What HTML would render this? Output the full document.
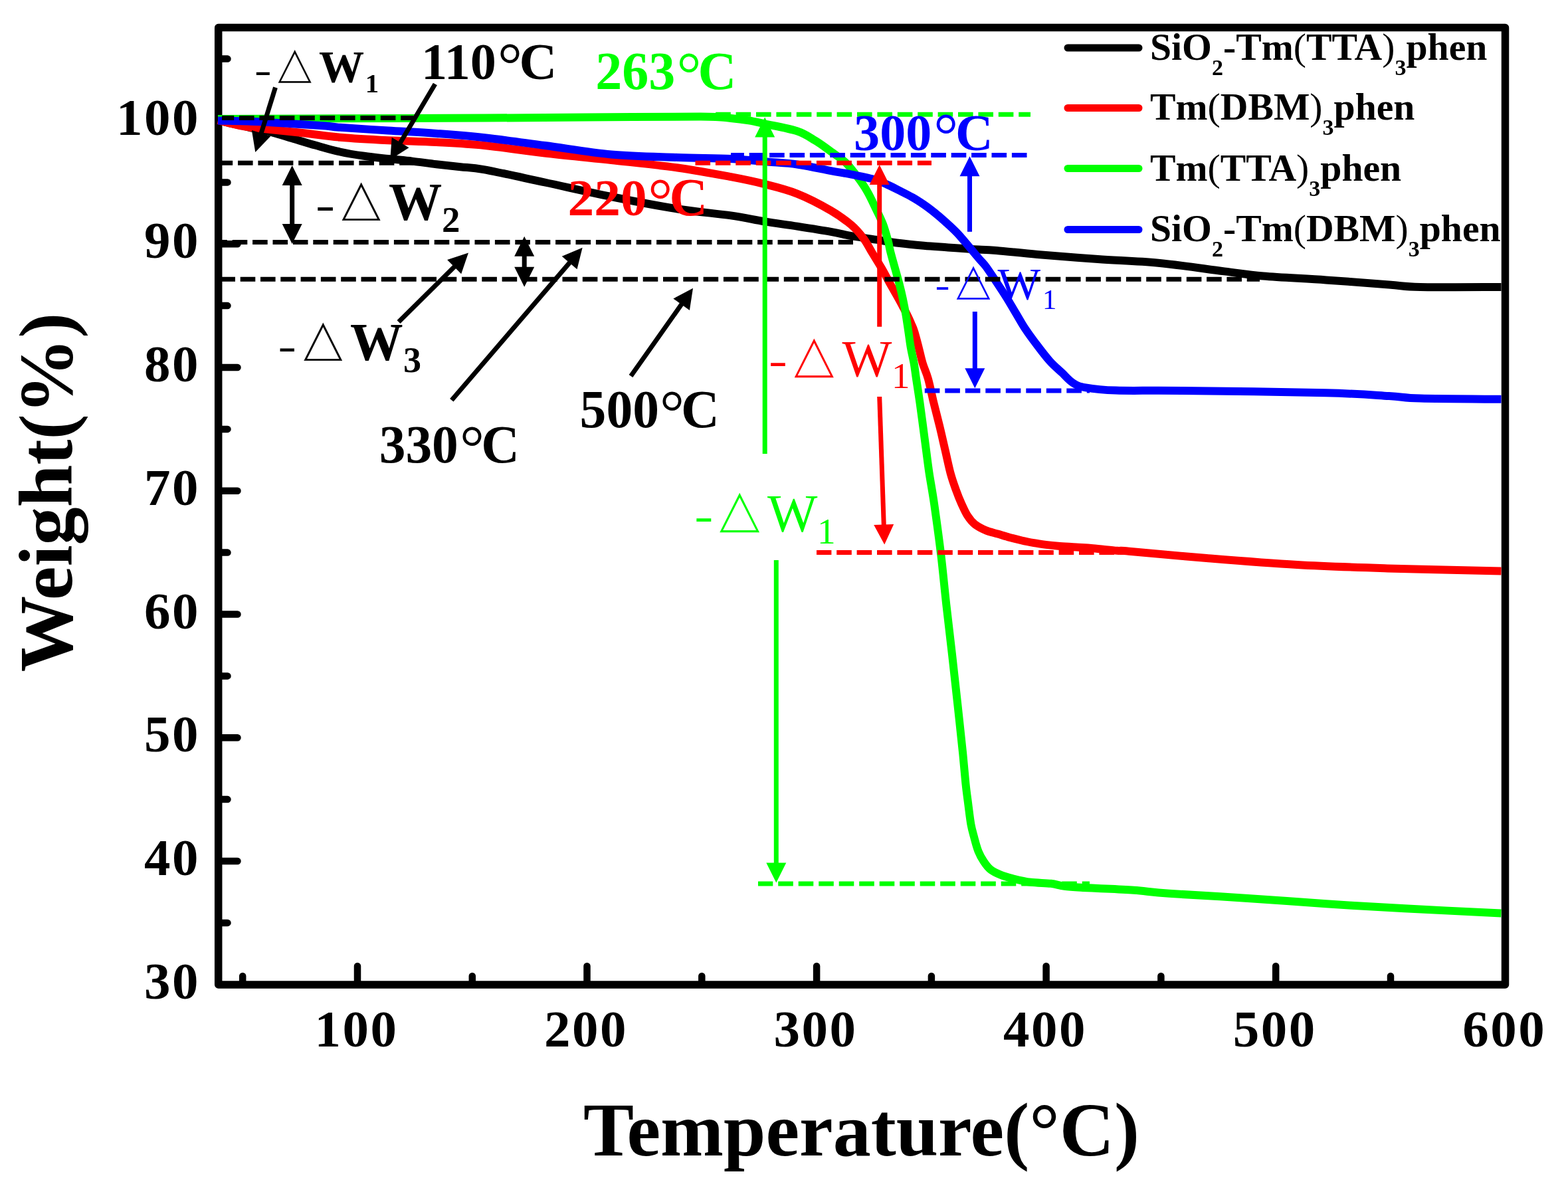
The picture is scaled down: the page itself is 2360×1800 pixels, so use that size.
<!DOCTYPE html>
<html><head><meta charset="utf-8"><title>TGA</title>
<style>html,body{margin:0;padding:0;background:#fff;overflow:hidden}svg{display:block}</style>
</head><body>
<svg width="2360" height="1800" viewBox="0 0 2360 1800">
<rect width="2360" height="1800" fill="#fff"/>
<rect x="328.7" y="41.5" width="1936.8" height="1440.5" fill="none" stroke="#000" stroke-width="11.5" stroke-linejoin="round"/>
<path d="M538.0 1477V1454 M883.5 1477V1454 M1229.1 1477V1454 M1574.6 1477V1454 M1920.2 1477V1454 M365.2 1477V1469 M710.8 1477V1469 M1056.3 1477V1469 M1401.9 1477V1469 M1747.4 1477V1469 M2093.0 1477V1469 M334 1296.0H357.5 M334 1110.2H357.5 M334 924.5H357.5 M334 738.8H357.5 M334 553.0H357.5 M334 367.2H357.5 M334 181.5H357.5 M334 1388.9H342.5 M334 1203.1H342.5 M334 1017.4H342.5 M334 831.6H342.5 M334 645.9H342.5 M334 460.1H342.5 M334 274.4H342.5 M334 88.6H342.5" stroke="#000" stroke-width="10.5" stroke-linecap="round" fill="none"/>
<path d="M328.0 181.0C331.3 181.8 341.7 184.6 348.0 186.0C354.3 187.4 360.7 188.3 366.0 189.5C371.3 190.7 373.9 191.7 380.0 193.0C386.1 194.3 392.8 195.0 402.6 197.5C412.4 200.0 426.9 204.4 439.0 208.0C451.1 211.6 463.2 215.4 475.3 218.8C487.4 222.2 499.5 225.8 511.6 228.5C523.7 231.2 535.8 233.1 547.9 234.8C560.0 236.6 572.1 237.7 584.2 239.0C596.3 240.3 608.4 241.2 620.5 242.6C632.6 244.0 644.7 245.8 656.8 247.2C668.9 248.6 681.0 249.8 693.1 251.2C705.2 252.5 708.4 251.4 729.5 255.3C750.6 259.2 788.2 267.7 820.0 274.5C851.8 281.3 886.7 289.3 920.0 296.0C953.3 302.7 990.0 309.8 1020.0 314.5C1050.0 319.2 1078.2 321.2 1100.0 324.4C1121.8 327.5 1134.1 330.7 1150.8 333.4C1167.5 336.1 1183.2 338.0 1199.9 340.6C1216.6 343.2 1237.1 346.4 1250.7 348.8C1264.3 351.2 1270.4 353.2 1281.6 355.2C1292.8 357.2 1305.8 358.8 1317.9 360.6C1330.0 362.4 1342.1 364.5 1354.2 366.0C1366.3 367.5 1378.4 368.6 1390.5 369.7C1402.6 370.8 1414.7 371.5 1426.8 372.4C1438.9 373.3 1451.0 374.3 1463.1 375.1C1475.2 375.9 1483.1 375.7 1499.5 377.0C1515.9 378.3 1536.1 380.8 1561.6 383.0C1587.1 385.2 1622.1 387.9 1652.4 390.0C1682.7 392.1 1711.5 392.6 1743.2 395.7C1774.9 398.8 1816.2 405.1 1842.6 408.4C1869.0 411.7 1876.0 413.3 1901.6 415.5C1927.2 417.7 1964.5 419.2 1996.0 421.4C2027.5 423.6 2066.9 426.7 2090.5 428.5C2114.1 430.3 2109.5 431.4 2137.7 432.0C2165.9 432.6 2239.2 432.0 2259.5 432.0" fill="none" stroke="#000" stroke-width="12" stroke-linejoin="round" stroke-linecap="butt"/>
<path d="M328.0 181.0C334.4 182.5 353.9 187.8 366.3 190.0C378.7 192.2 387.5 192.8 402.6 194.5C417.7 196.2 438.9 198.3 457.1 200.3C475.3 202.3 490.4 204.9 511.6 206.7C532.8 208.5 560.0 210.0 584.2 211.2C608.4 212.4 632.6 212.7 656.8 214.0C681.0 215.3 702.3 216.2 729.5 219.0C756.7 221.8 788.2 226.8 820.0 230.5C851.8 234.2 886.7 237.3 920.0 241.0C953.3 244.7 990.0 248.3 1020.0 252.5C1050.0 256.7 1078.2 262.1 1100.0 266.2C1121.8 270.3 1134.1 272.9 1150.8 277.1C1167.5 281.3 1183.2 285.0 1199.9 291.6C1216.6 298.2 1237.1 309.1 1250.7 317.0C1264.3 324.9 1273.4 331.8 1281.6 338.8C1289.8 345.8 1294.5 351.9 1299.7 358.8C1304.9 365.7 1308.0 372.5 1312.5 380.0C1317.0 387.5 1322.4 395.9 1327.0 403.8C1331.6 411.7 1335.6 419.7 1340.0 427.6C1344.4 435.5 1349.2 443.5 1353.5 451.4C1357.8 459.3 1363.0 469.2 1366.0 475.2C1369.0 481.1 1369.7 483.1 1371.4 487.1C1373.1 491.1 1374.3 493.0 1376.2 499.0C1378.1 505.0 1380.6 514.9 1382.7 522.9C1384.8 530.9 1386.3 538.9 1388.7 546.7C1391.1 554.6 1394.2 560.2 1396.9 570.0C1399.7 579.8 1402.3 593.8 1405.2 605.7C1408.1 617.6 1411.3 629.5 1414.2 641.4C1417.1 653.3 1419.7 665.2 1422.5 677.1C1425.3 689.0 1428.1 703.0 1430.8 712.9C1433.5 722.8 1435.9 729.2 1438.6 736.7C1441.3 744.2 1444.2 751.6 1447.2 758.2C1450.2 764.8 1453.0 771.2 1456.3 776.3C1459.6 781.4 1462.7 785.4 1467.2 789.0C1471.8 792.6 1477.8 795.7 1483.6 798.1C1489.3 800.5 1495.7 801.8 1501.7 803.6C1507.8 805.4 1513.9 807.4 1519.9 809.0C1526.0 810.6 1532.0 812.1 1538.0 813.5C1544.0 814.9 1550.2 816.1 1556.2 817.2C1562.2 818.3 1568.2 819.1 1574.3 819.9C1580.3 820.6 1584.9 821.1 1592.5 821.7C1600.1 822.3 1611.0 822.9 1619.7 823.5C1628.5 824.1 1634.7 824.3 1645.0 825.2C1655.3 826.1 1672.2 828.0 1681.3 828.8C1690.4 829.5 1677.0 827.8 1699.5 829.7C1722.0 831.6 1773.9 836.6 1816.0 840.0C1858.1 843.4 1906.9 847.4 1952.3 850.0C1997.7 852.6 2037.3 853.8 2088.5 855.4C2139.7 857.0 2231.0 858.8 2259.5 859.5" fill="none" stroke="#f00" stroke-width="12" stroke-linejoin="round" stroke-linecap="butt"/>
<path d="M328.0 179.0C358.6 178.9 444.7 178.4 511.6 178.2C578.5 178.0 668.1 177.9 729.5 177.6C790.9 177.3 825.9 176.9 880.0 176.6C934.1 176.2 1017.6 175.3 1054.3 175.5C1091.0 175.7 1087.9 177.0 1100.0 178.0C1112.1 179.0 1118.5 179.9 1127.0 181.3C1135.5 182.7 1138.7 183.6 1150.8 186.3C1162.9 189.0 1186.9 193.1 1199.6 197.3C1212.3 201.5 1218.6 206.6 1227.1 211.7C1235.6 216.8 1243.1 222.6 1250.7 228.1C1258.3 233.6 1265.8 238.1 1272.5 244.4C1279.2 250.8 1285.1 258.9 1290.6 266.2C1296.0 273.5 1300.7 280.1 1305.2 288.0C1309.8 295.9 1314.0 305.2 1317.9 313.4C1321.8 321.6 1325.7 328.9 1328.8 337.0C1331.9 345.1 1334.5 354.8 1336.5 362.0C1338.5 369.2 1337.7 369.1 1340.5 380.0C1343.3 390.9 1350.5 415.7 1353.6 427.6C1356.7 439.5 1357.5 443.5 1359.2 451.4C1360.9 459.3 1362.4 467.3 1363.7 475.2C1365.0 483.1 1366.1 491.1 1367.3 499.0C1368.5 506.9 1369.4 514.9 1370.8 522.9C1372.2 530.9 1374.2 538.9 1375.6 546.7C1377.0 554.6 1377.5 560.2 1379.0 570.0C1380.5 579.8 1382.7 593.8 1384.4 605.7C1386.1 617.6 1387.6 629.5 1389.2 641.4C1390.8 653.3 1392.3 665.2 1393.9 677.1C1395.5 689.0 1396.6 699.1 1398.7 712.9C1400.8 726.7 1403.4 739.6 1406.3 760.0C1409.2 780.4 1413.3 810.0 1416.3 835.0C1419.3 860.0 1421.5 885.0 1424.3 910.0C1427.1 935.0 1430.2 960.0 1433.0 985.0C1435.8 1010.0 1438.6 1035.0 1441.3 1060.0C1444.0 1085.0 1447.3 1115.0 1449.3 1135.0C1451.3 1155.0 1452.2 1167.4 1453.5 1180.0C1454.8 1192.6 1456.0 1200.3 1457.3 1210.4C1458.6 1220.5 1459.9 1232.3 1461.4 1240.7C1462.9 1249.1 1464.6 1254.2 1466.4 1261.0C1468.2 1267.8 1470.1 1275.3 1472.5 1281.2C1474.9 1287.1 1477.6 1291.9 1480.6 1296.4C1483.6 1301.0 1486.5 1305.1 1490.7 1308.5C1494.9 1311.9 1500.0 1314.2 1505.9 1316.6C1511.8 1319.0 1518.6 1320.8 1526.2 1322.7C1533.8 1324.6 1542.2 1326.6 1551.5 1327.8C1560.8 1329.0 1573.4 1328.8 1581.8 1329.8C1590.2 1330.8 1594.1 1332.8 1602.1 1333.8C1610.1 1334.8 1621.6 1335.4 1630.0 1335.9C1638.4 1336.4 1639.5 1336.4 1652.3 1337.0C1665.1 1337.6 1688.8 1338.4 1706.8 1339.7C1724.8 1341.0 1731.5 1342.8 1760.0 1344.8C1788.5 1346.8 1838.7 1349.3 1878.0 1351.9C1917.3 1354.5 1956.7 1357.6 1996.0 1360.2C2035.3 1362.8 2070.1 1364.9 2114.0 1367.3C2157.9 1369.7 2235.2 1373.2 2259.5 1374.4" fill="none" stroke="#0f0" stroke-width="12" stroke-linejoin="round" stroke-linecap="butt"/>
<path d="M328.0 181.5C337.4 181.8 366.0 182.2 384.5 183.0C403.0 183.8 421.4 185.2 439.0 186.3C456.6 187.4 477.9 188.6 490.0 189.5C502.1 190.4 495.9 190.6 511.6 191.8C527.3 193.0 560.0 195.0 584.2 196.5C608.4 198.0 632.6 199.1 656.8 200.9C681.0 202.7 702.3 204.2 729.5 207.2C756.7 210.2 788.2 214.8 820.0 219.0C851.8 223.2 886.7 229.5 920.0 232.5C953.3 235.5 990.0 235.9 1020.0 237.0C1050.0 238.1 1077.6 237.9 1100.0 239.0C1122.4 240.1 1137.8 242.1 1154.5 243.5C1171.2 244.9 1183.9 245.2 1199.9 247.5C1215.9 249.8 1237.1 254.6 1250.7 257.1C1264.3 259.6 1270.4 260.3 1281.6 262.6C1292.8 264.9 1308.5 268.0 1317.9 270.7C1327.3 273.4 1331.7 276.1 1338.0 279.0C1344.3 281.9 1350.1 285.0 1356.0 288.0C1361.9 291.0 1367.6 293.8 1373.3 297.0C1379.0 300.2 1384.4 303.7 1390.0 307.5C1395.6 311.3 1401.2 315.6 1406.7 320.0C1412.2 324.4 1417.8 329.2 1423.3 334.2C1428.8 339.2 1434.4 344.2 1440.0 350.0C1445.6 355.8 1451.2 362.7 1456.7 369.2C1462.2 375.7 1468.8 383.7 1473.3 389.0C1477.8 394.3 1479.9 395.8 1483.8 401.0C1487.7 406.2 1491.7 412.4 1496.9 420.2C1502.1 428.0 1509.5 439.1 1514.8 447.6C1520.1 456.1 1524.2 463.5 1529.0 471.4C1533.8 479.3 1538.0 487.3 1543.3 495.2C1548.6 503.1 1554.5 511.1 1560.6 519.0C1566.6 527.0 1573.3 535.9 1579.6 542.9C1585.8 549.9 1592.2 555.2 1598.1 560.7C1604.0 566.2 1608.8 572.4 1614.8 576.2C1620.8 580.0 1623.2 581.4 1634.0 583.3C1644.8 585.2 1655.3 586.8 1679.6 587.6C1703.8 588.4 1726.8 587.4 1779.5 588.0C1832.2 588.6 1944.2 590.0 1996.0 591.3C2047.8 592.6 2066.9 594.6 2090.5 596.0C2114.1 597.4 2109.5 598.8 2137.7 599.6C2165.9 600.4 2239.2 600.6 2259.5 600.8" fill="none" stroke="#00f" stroke-width="12" stroke-linejoin="round" stroke-linecap="butt"/>
<line x1="334" y1="177.4" x2="622" y2="177.4" stroke="#000" stroke-width="7" stroke-dasharray="22.6 7.8" stroke-dashoffset="4.4"/>
<line x1="334" y1="245.2" x2="622" y2="245.2" stroke="#000" stroke-width="7" stroke-dasharray="22.6 7.8" stroke-dashoffset="6.4"/>
<line x1="334" y1="364.5" x2="1284" y2="364.5" stroke="#000" stroke-width="7" stroke-dasharray="22.6 7.8" stroke-dashoffset="14.7"/>
<line x1="334" y1="420.2" x2="1896" y2="420.2" stroke="#000" stroke-width="7" stroke-dasharray="22.6 7.7" stroke-dashoffset="2.6"/>
<line x1="1077" y1="172.2" x2="1551" y2="172.2" stroke="#0f0" stroke-width="7" stroke-dasharray="22.6 7.8" stroke-dashoffset="30.2"/>
<line x1="1100" y1="233.5" x2="1548" y2="233.5" stroke="#00f" stroke-width="7" stroke-dasharray="22.6 7.8" stroke-dashoffset="2.7"/>
<line x1="1040" y1="245.3" x2="1402" y2="245.3" stroke="#f00" stroke-width="7" stroke-dasharray="22.6 7.8" stroke-dashoffset="23.9"/>
<line x1="1391" y1="588" x2="1640" y2="588" stroke="#00f" stroke-width="7" stroke-dasharray="22.6 7.9" stroke-dashoffset="29.7"/>
<line x1="1229" y1="831.5" x2="1720" y2="831.5" stroke="#f00" stroke-width="7" stroke-dasharray="22.6 7.8" stroke-dashoffset="0.2"/>
<line x1="1141" y1="1330" x2="1640" y2="1330" stroke="#0f0" stroke-width="7" stroke-dasharray="22.6 7.9" stroke-dashoffset="0.3"/>
<g font-family="Liberation Serif, serif" font-weight="bold" font-size="79" letter-spacing="2.5" fill="#000">
<text x="301.0" y="1502.8" text-anchor="end">30</text>
<text x="301.0" y="1317.0" text-anchor="end">40</text>
<text x="301.0" y="1131.2" text-anchor="end">50</text>
<text x="301.0" y="945.5" text-anchor="end">60</text>
<text x="301.0" y="759.8" text-anchor="end">70</text>
<text x="301.0" y="574.0" text-anchor="end">80</text>
<text x="301.0" y="388.2" text-anchor="end">90</text>
<text x="301.0" y="202.5" text-anchor="end">100</text>
<text x="536.5" y="1575" text-anchor="middle">100</text>
<text x="882.0" y="1575" text-anchor="middle">200</text>
<text x="1227.6" y="1575" text-anchor="middle">300</text>
<text x="1573.1" y="1575" text-anchor="middle">400</text>
<text x="1918.7" y="1575" text-anchor="middle">500</text>
<text x="2264.2" y="1575" text-anchor="middle">600</text>
</g>
<text x="1296.5" y="1739" text-anchor="middle" font-family="Liberation Serif, serif" font-weight="bold" font-size="114">Temperature(°C)</text>
<text transform="translate(108,741) rotate(-90)" text-anchor="middle" font-family="Liberation Serif, serif" font-weight="bold" font-size="114.5">Weight(%)</text>
<g font-family="Liberation Serif, serif" font-weight="bold" font-size="57.7" fill="#000">
<line x1="1607" y1="72" x2="1714" y2="72" stroke="#000" stroke-width="11" stroke-linecap="round"/>
<text x="1731" y="89.5">SiO<tspan font-size="34" dy="23">2</tspan><tspan dy="-23">-</tspan>Tm<tspan font-weight="normal">(</tspan>TTA<tspan font-weight="normal">)</tspan><tspan font-size="34" dy="23">3</tspan><tspan dy="-23">phen</tspan></text>
<line x1="1607" y1="162.5" x2="1714" y2="162.5" stroke="#f00" stroke-width="11" stroke-linecap="round"/>
<text x="1731" y="180">Tm<tspan font-weight="normal">(</tspan>DBM<tspan font-weight="normal">)</tspan><tspan font-size="34" dy="23">3</tspan><tspan dy="-23">phen</tspan></text>
<line x1="1607" y1="253.5" x2="1714" y2="253.5" stroke="#0f0" stroke-width="11" stroke-linecap="round"/>
<text x="1731" y="272">Tm<tspan font-weight="normal">(</tspan>TTA<tspan font-weight="normal">)</tspan><tspan font-size="34" dy="23">3</tspan><tspan dy="-23">phen</tspan></text>
<line x1="1607" y1="345.5" x2="1714" y2="345.5" stroke="#00f" stroke-width="11" stroke-linecap="round"/>
<text x="1731" y="362.5">SiO<tspan font-size="34" dy="23">2</tspan><tspan dy="-23">-</tspan>Tm<tspan font-weight="normal">(</tspan>DBM<tspan font-weight="normal">)</tspan><tspan font-size="34" dy="23">3</tspan><tspan dy="-23">phen</tspan></text>
</g>
<line x1="414.5" y1="131.6" x2="392.6" y2="202.3" stroke="#000" stroke-width="7"/><polygon points="384.3,229.0 378.9,195.9 407.5,204.8" fill="#000"/>
<line x1="654.9" y1="126.5" x2="601.6" y2="216.2" stroke="#000" stroke-width="7"/><polygon points="587.3,240.3 589.7,206.8 615.5,222.2" fill="#000"/>
<line x1="439.7" y1="274" x2="439.7" y2="342" stroke="#000" stroke-width="7"/><polygon points="439.7,249.0 454.7,279.0 424.7,279.0" fill="#000"/><polygon points="439.7,367.0 424.7,337.0 454.7,337.0" fill="#000"/>
<line x1="789.2" y1="380.7" x2="789.2" y2="406.8" stroke="#000" stroke-width="7"/><polygon points="789.2,355.7 804.2,385.7 774.2,385.7" fill="#000"/><polygon points="789.2,431.8 774.2,401.8 804.2,401.8" fill="#000"/>
<line x1="600.0" y1="484.5" x2="685.1" y2="400.2" stroke="#000" stroke-width="7"/><polygon points="705.0,380.5 694.2,412.3 673.1,391.0" fill="#000"/>
<line x1="679.8" y1="602.2" x2="858.4" y2="394.1" stroke="#000" stroke-width="7"/><polygon points="876.6,372.8 868.5,405.3 845.7,385.8" fill="#000"/>
<line x1="949.5" y1="566.0" x2="1026.8" y2="456.6" stroke="#000" stroke-width="7"/><polygon points="1043.0,433.7 1037.9,466.9 1013.4,449.5" fill="#000"/>
<line x1="1151.2" y1="683.0" x2="1151.2" y2="204.5" stroke="#0f0" stroke-width="7"/><polygon points="1151.2,176.5 1166.2,206.5 1136.2,206.5" fill="#0f0"/>
<line x1="1168.3" y1="843.0" x2="1168.3" y2="1300.6" stroke="#0f0" stroke-width="7"/><polygon points="1168.3,1328.6 1153.3,1298.6 1183.3,1298.6" fill="#0f0"/>
<line x1="1323.7" y1="491.7" x2="1323.7" y2="276.0" stroke="#f00" stroke-width="7"/><polygon points="1323.7,248.0 1338.7,278.0 1308.7,278.0" fill="#f00"/>
<line x1="1323.7" y1="597.0" x2="1330.3" y2="791.5" stroke="#f00" stroke-width="7"/><polygon points="1331.2,819.5 1315.2,790.0 1345.2,789.0" fill="#f00"/>
<line x1="1459.5" y1="348.8" x2="1459.5" y2="263.3" stroke="#00f" stroke-width="7"/><polygon points="1459.5,235.3 1474.5,265.3 1444.5,265.3" fill="#00f"/>
<line x1="1467.3" y1="469.0" x2="1467.3" y2="556.3" stroke="#00f" stroke-width="7"/><polygon points="1467.3,584.3 1452.3,554.3 1482.3,554.3" fill="#00f"/>
<text x="633.9" y="118.9" font-family="'Liberation Serif', serif" font-weight="bold" font-size="78.2" fill="#000">110</text>
<text x="748.9" y="128.7" font-family="'Liberation Serif', serif" font-size="92.6" fill="#000">°</text>
<text x="781.4" y="118.9" font-family="'Liberation Serif', serif" font-weight="bold" font-size="78.5" fill="#000">C</text>
<text x="896.2" y="134.0" font-family="'Liberation Serif', serif" font-weight="bold" font-size="80.0" fill="#0f0">263</text>
<text x="1018.6" y="142.8" font-family="'Liberation Serif', serif" font-size="92.6" fill="#0f0">°</text>
<text x="1050.6" y="134.0" font-family="'Liberation Serif', serif" font-weight="bold" font-size="80.0" fill="#0f0">C</text>
<text x="1285.1" y="225.5" font-family="'Liberation Serif', serif" font-weight="bold" font-size="78.1" fill="#00f">300</text>
<text x="1405.3" y="235.4" font-family="'Liberation Serif', serif" font-size="92.6" fill="#00f">°</text>
<text x="1437.9" y="225.5" font-family="'Liberation Serif', serif" font-weight="bold" font-size="78.4" fill="#00f">C</text>
<text x="854.6" y="323.5" font-family="'Liberation Serif', serif" font-weight="bold" font-size="79.3" fill="#f00">220</text>
<text x="975.3" y="332.6" font-family="'Liberation Serif', serif" font-size="92.6" fill="#f00">°</text>
<text x="1007.5" y="323.5" font-family="'Liberation Serif', serif" font-weight="bold" font-size="79.6" fill="#f00">C</text>
<text x="570.7" y="696.2" font-family="'Liberation Serif', serif" font-weight="bold" font-size="79.4" fill="#000">330</text>
<text x="692.1" y="705.2" font-family="'Liberation Serif', serif" font-size="92.6" fill="#000">°</text>
<text x="724.2" y="696.2" font-family="'Liberation Serif', serif" font-weight="bold" font-size="79.7" fill="#000">C</text>
<text x="872.6" y="642.6" font-family="'Liberation Serif', serif" font-weight="bold" font-size="79.6" fill="#000">500</text>
<text x="992.9" y="651.5" font-family="'Liberation Serif', serif" font-size="92.6" fill="#000">°</text>
<text x="1025.0" y="642.6" font-family="'Liberation Serif', serif" font-weight="bold" font-size="79.9" fill="#000">C</text>
<text transform="translate(0 27.50) scale(1 0.75)" x="383.1" y="128.1" font-family="'Liberation Serif', serif" font-size="76.9" fill="#000">-</text>
<text x="413.1" y="121.6" font-family="'WenQuanYi Zen Hei', sans-serif" font-size="61.4" fill="#000" stroke="#000" stroke-width="0.5">△</text>
<text x="480.0" y="123.2" font-family="'Liberation Serif', serif" font-weight="bold" font-size="68.1" fill="#000">W</text>
<text x="549.7" y="139.0" font-family="'Liberation Serif', serif" font-weight="bold" font-size="40.9" fill="#000">1</text>
<text transform="translate(0 78.72) scale(1 0.75)" x="475.0" y="335.4" font-family="'Liberation Serif', serif" font-size="87.3" fill="#000">-</text>
<text x="507.9" y="328.5" font-family="'WenQuanYi Zen Hei', sans-serif" font-size="71.3" fill="#000" stroke="#000" stroke-width="0.5">△</text>
<text x="585.1" y="331.0" font-family="'Liberation Serif', serif" font-weight="bold" font-size="80.3" fill="#000">W</text>
<text x="664.9" y="349.0" font-family="'Liberation Serif', serif" font-weight="bold" font-size="54.9" fill="#000">2</text>
<text transform="translate(0 131.60) scale(1 0.75)" x="418.5" y="545.7" font-family="'Liberation Serif', serif" font-size="82.3" fill="#000">-</text>
<text x="450.7" y="540.1" font-family="'WenQuanYi Zen Hei', sans-serif" font-size="71.1" fill="#000" stroke="#000" stroke-width="0.5">△</text>
<text x="527.0" y="541.8" font-family="'Liberation Serif', serif" font-weight="bold" font-size="79.6" fill="#000">W</text>
<text x="607.1" y="559.5" font-family="'Liberation Serif', serif" font-weight="bold" font-size="54.0" fill="#000">3</text>
<text transform="translate(0 137.25) scale(1 0.75)" x="1156.9" y="568.6" font-family="'Liberation Serif', serif" font-size="83.5" fill="#f00">-</text>
<text x="1189.1" y="564.5" font-family="'WenQuanYi Zen Hei', sans-serif" font-size="72.6" fill="#f00" stroke="#f00" stroke-width="0.5">△</text>
<text x="1267.4" y="566.1" font-family="'Liberation Serif', serif" font-size="79.3" fill="#f00">W</text>
<text x="1341.9" y="584.3" font-family="'Liberation Serif', serif" font-size="55.0" fill="#f00">1</text>
<text transform="translate(0 108.60) scale(1 0.75)" x="1407.5" y="449.9" font-family="'Liberation Serif', serif" font-size="66.2" fill="#00f">-</text>
<text x="1433.9" y="447.5" font-family="'WenQuanYi Zen Hei', sans-serif" font-size="62.1" fill="#00f" stroke="#00f" stroke-width="0.5">△</text>
<text x="1501.6" y="449.5" font-family="'Liberation Serif', serif" font-size="68.4" fill="#00f">W</text>
<text x="1568.9" y="465.3" font-family="'Liberation Serif', serif" font-size="42.9" fill="#00f">1</text>
<text transform="translate(0 195.68) scale(1 0.75)" x="1045.2" y="802.5" font-family="'Liberation Serif', serif" font-size="84.2" fill="#0f0">-</text>
<text x="1076.6" y="798.2" font-family="'WenQuanYi Zen Hei', sans-serif" font-size="73.4" fill="#0f0" stroke="#0f0" stroke-width="0.5">△</text>
<text x="1155.0" y="799.9" font-family="'Liberation Serif', serif" font-size="79.9" fill="#0f0">W</text>
<text x="1230.0" y="818.2" font-family="'Liberation Serif', serif" font-size="55.3" fill="#0f0">1</text>

</svg>
</body></html>
